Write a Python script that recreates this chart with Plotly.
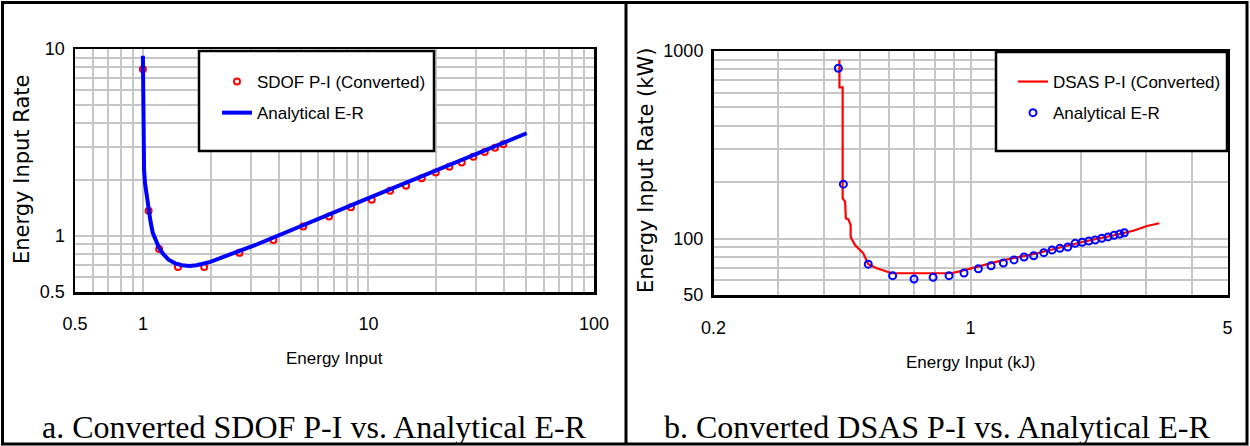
import math
import plotly.graph_objects as go

W, H = 1250, 446

# ---------------- Panel a data ----------------
a_line_x = [1.000, 1.002, 1.004, 1.012, 1.022, 1.040, 1.061, 1.080, 1.105, 1.14, 1.18, 1.23,
            1.30, 1.39, 1.49, 1.61, 1.73, 1.99, 2.30, 2.68, 3.10, 3.66, 5.0, 7.0, 10.0,
            14.0, 20.0, 30.0, 40.0, 50.3]
a_line_y = [9.2, 4.9, 2.76, 2.25, 1.91, 1.60, 1.38, 1.20, 1.04, 0.94, 0.86, 0.80,
            0.745, 0.712, 0.695, 0.69, 0.695, 0.725, 0.77, 0.83, 0.885, 0.96, 1.12, 1.33, 1.59,
            1.88, 2.24, 2.74, 3.16, 3.54]
a_pts_x = [1.00, 1.06, 1.18, 1.43, 1.87, 2.68, 3.79, 5.14, 6.69, 8.37, 10.34, 12.47, 14.68,
           17.23, 19.88, 22.84, 25.92, 29.18, 32.78, 36.41, 39.64]
a_pts_y = [7.8, 1.36, 0.85, 0.68, 0.68, 0.81, 0.95, 1.12, 1.27, 1.42, 1.56, 1.74, 1.85,
           2.03, 2.18, 2.34, 2.47, 2.65, 2.81, 2.96, 3.09]
a_xgrid = [0.5, 0.6, 0.7, 0.8, 0.9, 1, 2, 3, 4, 5, 6, 7, 8, 9, 10,
           20, 30, 40, 50, 60, 70, 80, 90, 100]
a_xlabels = {0.5: "0.5", 1: "1", 10: "10", 100: "100"}
a_ygrid = [0.5, 0.6, 0.7, 0.8, 0.9, 1, 2, 3, 4, 5, 6, 7, 8, 9, 10]
a_ylabels = {0.5: "0.5", 1: "1", 10: "10"}

# ---------------- Panel b data ----------------
b_line_x = [0.440, 0.440, 0.449, 0.449, 0.456, 0.458, 0.465, 0.472, 0.472, 0.485, 0.511, 0.527,
            0.556, 0.611, 0.700, 0.800, 0.889, 0.950, 1.018, 1.10, 1.203, 1.50, 2.00, 2.50,
            2.77, 3.02, 3.26]
b_line_y = [895, 640, 640, 164, 157, 128, 127, 118, 102, 92.4, 83.4, 72.9,
            69.4, 65.3, 65.3, 65.3, 65.3, 67.5, 69.9, 72.5, 76.0, 83.0, 95.5, 105,
            110, 116.7, 120.6]
b_pts_x = [0.437, 0.451, 0.527, 0.614, 0.702, 0.791, 0.874, 0.960, 1.050, 1.137, 1.228, 1.313,
           1.398, 1.485, 1.582, 1.666, 1.749, 1.838, 1.924, 2.011, 2.097, 2.182, 2.275, 2.366,
           2.457, 2.546, 2.620]
b_pts_y = [809, 195, 73, 63.4, 60.8, 62.1, 63.4, 65.5, 69.0, 71.6, 74.1, 76.9,
           79.7, 81.0, 84.1, 86.9, 88.7, 90.1, 94.3, 95.5, 97.0, 98.2, 100.3, 102.0,
           104.1, 105.7, 107.4]
b_xgrid = [0.2, 0.3, 0.4, 0.5, 0.6, 0.7, 0.8, 0.9, 1, 2, 3, 4, 5]
b_xlabels = {0.2: "0.2", 1: "1", 5: "5"}
b_ygrid = [50, 60, 70, 80, 90, 100, 200, 300, 400, 500, 600, 700, 800, 900, 1000]
b_ylabels = {50: "50", 100: "100", 1000: "1000"}

SANS = "Liberation Sans, Arial, sans-serif"
WIDE = "DejaVu Sans, Verdana, sans-serif"
SERIF = "Liberation Serif, Times New Roman, serif"


def px(x):
    return x / W


def py(y):
    return 1 - y / H


fig = go.Figure()

fig.add_trace(go.Scatter(x=a_pts_x, y=a_pts_y, mode="markers", name="SDOF P-I (Converted)",
                         marker=dict(symbol="circle-open", size=6, color="#ff0000",
                                     line=dict(width=2, color="#ff0000")),
                         xaxis="x", yaxis="y", legend="legend", legendgroup="a1"))
fig.add_trace(go.Scatter(x=a_line_x, y=a_line_y, mode="lines", name="Analytical E-R",
                         line=dict(color="#0000ff", width=4),
                         xaxis="x", yaxis="y", legend="legend", legendgroup="a2"))
fig.add_trace(go.Scatter(x=b_line_x, y=b_line_y, mode="lines", name="DSAS P-I (Converted)",
                         line=dict(color="#ff0000", width=2.2),
                         xaxis="x2", yaxis="y2", legend="legend2", legendgroup="b1"))
fig.add_trace(go.Scatter(x=b_pts_x, y=b_pts_y, mode="markers", name="Analytical E-R",
                         marker=dict(symbol="circle-open", size=7, color="#0000ff",
                                     line=dict(width=2, color="#0000ff")),
                         xaxis="x2", yaxis="y2", legend="legend2", legendgroup="b2"))


def axis(grid, labels, domain, anchor):
    return dict(
        type="log", domain=domain, anchor=anchor, automargin=False,
        range=[math.log10(min(grid)), math.log10(max(grid))],
        tickmode="array", tickvals=grid,
        ticktext=[labels.get(v, "") for v in grid],
        showgrid=True, gridcolor="#c6c6c6", gridwidth=2,
        showline=True, mirror=True, linecolor="black", linewidth=2.5,
        ticks="", zeroline=False,
        tickfont=dict(family=SANS, size=18, color="black"),
    )


xa = axis(a_xgrid, a_xlabels, [px(75), px(594)], "y")
ya = axis(a_ygrid, a_ylabels, [py(292), py(49)], "x")
xb = axis(b_xgrid, b_xlabels, [px(713.5), px(1227.6)], "y2")
yb = axis(b_ygrid, b_ylabels, [py(295), py(51)], "x2")
xa["ticklabelstandoff"] = 14
xb["ticklabelstandoff"] = 15
ya["ticklabelstandoff"] = 4
yb["ticklabelstandoff"] = 4

legend_common = dict(bgcolor="rgba(0,0,0,0)", borderwidth=0, xanchor="left", yanchor="top",
                     font=dict(family=SANS, size=17, color="black"),
                     traceorder="grouped", tracegroupgap=6)

fig.update_layout(
    width=W, height=H, margin=dict(l=0, r=0, t=0, b=0, autoexpand=False),
    paper_bgcolor="white", plot_bgcolor="white", hovermode=False,
    xaxis=xa, yaxis=ya, xaxis2=xb, yaxis2=yb,
    legend=dict(x=px(217), y=py(64), **legend_common),
    legend2=dict(x=px(1013), y=py(64), **legend_common),
)

shapes = [
    # legend boxes
    dict(type="rect", xref="paper", yref="paper", x0=px(199), x1=px(434), y0=py(151), y1=py(51),
         line=dict(color="black", width=2.5), fillcolor="white", layer="above"),
    dict(type="rect", xref="paper", yref="paper", x0=px(996), x1=px(1227), y0=py(151), y1=py(52),
         line=dict(color="black", width=2.5), fillcolor="white", layer="above"),
    # table frame
    dict(type="rect", xref="paper", yref="paper", x0=px(2.5), x1=px(1247), y0=py(444), y1=py(2.5),
         line=dict(color="black", width=3), layer="above"),
    dict(type="line", xref="paper", yref="paper", x0=px(626), x1=px(626), y0=py(444), y1=py(2.5),
         line=dict(color="black", width=3), layer="above"),
]
fig.update_layout(shapes=shapes)

ann = [
    dict(text="Energy Input Rate", x=px(22), y=py(170), textangle=-90,
         font=dict(family=WIDE, size=21, color="black")),
    dict(text="Energy Input Rate (kW)", x=px(646), y=py(171), textangle=-90,
         font=dict(family=WIDE, size=21, color="black")),
    dict(text="Energy Input", x=px(334.5), y=py(358),
         font=dict(family=SANS, size=17, color="black")),
    dict(text="Energy Input (kJ)", x=px(970), y=py(362),
         font=dict(family=SANS, size=17, color="black")),
    dict(text="a. Converted SDOF P-I vs. Analytical E-R", x=px(314), y=py(427),
         font=dict(family=SERIF, size=32, color="black")),
    dict(text="b. Converted DSAS P-I vs. Analytical E-R", x=px(937), y=py(427),
         font=dict(family=SERIF, size=32, color="black")),
]
for a in ann:
    a.update(xref="paper", yref="paper", showarrow=False, xanchor="center", yanchor="middle")
fig.update_layout(annotations=ann)

fig.write_html(
    "out.html",
    config={"displayModeBar": False, "staticPlot": True},
    post_script="document.body.style.margin='0';document.body.style.padding='0';"
                "document.documentElement.style.overflow='hidden';",
)
